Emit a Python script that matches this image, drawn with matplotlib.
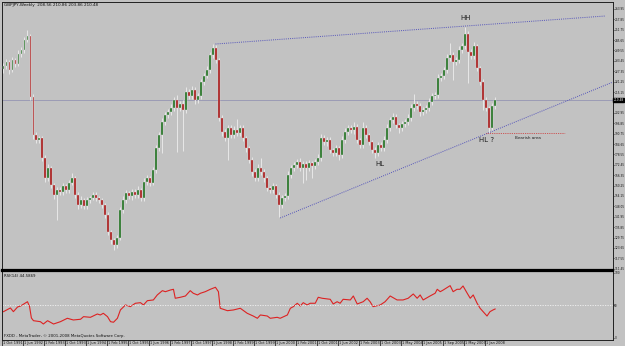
import matplotlib
matplotlib.use("Agg")
import matplotlib.pyplot as plt
import matplotlib.transforms as mtransforms
import numpy as np

# ---------------- data ----------------
title_text = "GBPJPY,Weekly  208.56 210.86 203.86 210.48"
first_open = 228.50
closes = [
    230.44, 232.79, 228.09, 233.96, 231.61, 237.48, 239.83, 245.70, 248.05, 212.24,
    189.93, 187.00, 188.17, 176.43, 164.69, 170.56, 160.58, 154.71, 157.65, 156.48,
    160.00, 157.65, 161.76, 164.69, 154.71, 148.84, 151.78, 148.26, 151.78, 152.95,
    154.71, 152.95, 151.78, 148.84, 142.97, 133.00, 128.30, 125.36, 129.47, 145.91,
    151.78, 155.89, 154.13, 156.48, 154.71, 157.65, 152.95, 162.35, 164.69, 161.76,
    169.39, 182.30, 189.93, 197.57, 201.67, 203.44, 205.78, 210.48, 205.78, 208.13,
    204.61, 215.18, 212.83, 216.35, 210.48, 212.83, 221.05, 224.57, 228.09, 236.90,
    241.00, 233.96, 199.91, 191.70, 188.17, 194.04, 189.93, 192.87, 191.11, 194.04,
    188.17, 182.30, 175.26, 168.22, 164.69, 170.56, 168.22, 164.69, 158.82, 157.65,
    160.00, 154.71, 148.84, 152.95, 154.13, 166.45, 170.56, 172.32, 174.09, 170.56,
    172.91, 170.56, 173.50, 171.74, 174.09, 176.43, 188.17, 185.83, 187.00, 181.13,
    179.37, 182.30, 178.19, 187.00, 191.70, 194.04, 192.87, 194.63, 187.00, 184.06,
    194.04, 189.93, 185.83, 181.13, 179.37, 184.06, 182.30, 187.00, 194.04, 198.74,
    200.50, 195.80, 194.04, 196.39, 197.57, 199.91, 205.78, 208.13, 206.96, 203.44,
    204.61, 205.78, 209.31, 212.83, 213.42, 223.39, 224.57, 228.09, 235.13, 236.90,
    232.79, 233.96, 239.83, 242.18, 249.22, 238.66, 236.31, 242.18, 229.26, 221.05,
    210.48, 205.78, 194.04, 206.96, 210.48,
]
wick_up = [
    1.5, 2.0, 1.2, 1.8, 1.0, 2.2, 1.5, 2.0, 3.5, 1.0,
    1.5, 2.0, 1.2, 1.0, 1.8, 2.5, 1.2, 1.0, 2.0, 1.5,
    1.8, 1.2, 2.0, 3.0, 1.0, 1.5, 2.2, 1.0, 1.8, 1.2,
    2.0, 1.5, 1.0, 1.2, 1.0, 1.5, 1.0, 1.2, 2.0, 1.5,
    2.5, 1.8, 1.2, 2.0, 1.5, 2.2, 1.0, 2.5, 1.8, 1.2,
    2.0, 1.5, 1.8, 2.2, 2.0, 1.5, 2.5, 2.0, 3.0, 1.8,
    2.2, 3.0, 1.5, 2.5, 2.0, 1.8, 2.0, 1.5, 2.2, 2.0,
    2.3, 1.5, 1.0, 1.5, 2.0, 1.8, 1.5, 2.5, 6.5, 2.0,
    1.5, 1.2, 1.0, 1.5, 2.0, 2.5, 5.9, 1.5, 1.0, 1.2,
    2.0, 1.0, 1.5, 1.8, 2.0, 2.5, 2.0, 1.5, 1.8, 2.2,
    1.5, 2.0, 1.8, 1.2, 2.0, 2.5, 2.2, 1.8, 2.0, 1.5,
    1.2, 2.0, 1.0, 2.2, 2.5, 1.8, 2.0, 3.0, 1.5, 1.2,
    3.5, 1.5, 1.0, 1.2, 1.5, 2.0, 1.8, 2.2, 2.5, 2.0,
    2.5, 1.5, 1.2, 1.8, 2.0, 2.2, 2.5, 6.0, 2.0, 1.5,
    1.8, 2.0, 2.2, 1.5, 2.0, 2.5, 1.8, 2.0, 2.2, 7.0,
    1.5, 1.8, 2.2, 2.0, 4.0, 1.5, 2.0, 2.5, 1.2, 1.0,
    1.5, 1.8, 1.2, 2.0, 1.5,
]
wick_dn = [
    2.0, 1.5, 2.5, 1.2, 1.8, 1.0, 2.0, 1.5, 1.2, 1.5,
    2.5, 1.8, 2.0, 1.5, 2.2, 1.8, 2.0, 2.5, 14.7, 1.5,
    2.0, 1.8, 1.5, 1.2, 2.0, 2.5, 1.5, 2.0, 1.8, 1.5,
    1.2, 2.0, 1.8, 2.0, 1.5, 2.0, 2.5, 3.0, 1.5, 1.2,
    1.8, 2.0, 1.5, 2.2, 1.8, 2.0, 1.5, 1.8, 2.0, 1.5,
    1.2, 1.5, 2.0, 10.6, 1.8, 2.0, 1.5, 1.8, 26.0, 2.0,
    24.0, 1.5, 2.0, 1.8, 2.5, 2.0, 1.5, 1.8, 1.2, 1.5,
    1.5, 2.0, 1.5, 2.2, 2.0, 13.0, 2.0, 1.8, 2.0, 1.5,
    2.0, 2.2, 1.8, 2.5, 2.0, 1.5, 2.0, 2.2, 1.8, 2.0,
    1.5, 2.0, 7.0, 1.8, 2.0, 1.5, 1.8, 2.0, 1.5, 2.0,
    8.8, 7.0, 2.0, 7.0, 1.8, 1.5, 2.0, 1.8, 2.2, 2.0,
    1.8, 2.0, 3.0, 1.5, 1.8, 2.0, 1.5, 2.2, 2.0, 1.8,
    1.5, 2.0, 1.8, 2.0, 3.0, 1.5, 2.0, 1.8, 1.5, 2.0,
    1.5, 2.0, 3.0, 2.0, 1.8, 1.5, 2.0, 1.5, 1.8, 2.2,
    2.0, 1.5, 1.8, 2.0, 1.5, 1.8, 2.0, 1.5, 1.8, 2.0,
    10.6, 2.0, 1.5, 1.8, 1.5, 18.0, 2.0, 1.8, 2.0, 1.5,
    6.0, 2.0, 3.0, 1.8, 1.5,
]
current_price = 210.48
price_ticks = [111.45, 117.55, 123.65, 129.75, 135.85, 141.95, 148.05, 154.15,
               160.25, 166.35, 172.45, 178.55, 184.65, 190.75, 196.85, 202.95,
               215.15, 221.25, 227.35, 233.45, 239.55, 245.65, 251.75, 257.85, 263.95]

date_labels = ["1 Oct 1991", "1 Jun 1992", "1 Feb 1993", "1 Oct 1993", "1 Jun 1994",
               "1 Feb 1995", "1 Oct 1995", "1 Jun 1996", "1 Feb 1997", "1 Oct 1997",
               "1 Jun 1998", "1 Feb 1999", "1 Oct 1999", "1 Jun 2000", "1 Feb 2001",
               "1 Oct 2001", "1 Jun 2002", "1 Feb 2003", "1 Oct 2003", "1 May 2004",
               "1 Jan 2005", "1 Sep 2005", "1 May 2007", "1 Jan 2008"]
date_label_bars = [-0.5, 6.5, 13.5, 20.5, 27.5, 34.5, 41.5, 48.5, 55.5, 62.5, 69.5, 76.5,
                   83.5, 90.5, 97.5, 104.5, 111.5, 118.5, 125.5, 132.5, 139.5, 146.5,
                   153.5, 160.5]

rsi_bars = [0, 2.3, 3.3, 4.7, 5.7, 8, 8.7, 9.3, 10, 12.3, 13.3, 14.7, 16.7, 19, 21.3, 23.3,
            25.7, 26.7, 29, 31.3, 32.3, 33.3, 34.7, 35.7, 36.7, 38, 39, 40.7, 42.3, 44,
            45.7, 46.7, 48, 50, 51.3, 53, 54, 55.7, 56.7, 57.3, 59, 60.7, 62.3, 63.3,
            64.7, 65.7, 67.3, 69, 70.7, 71.7, 72.3, 73.3, 74.7, 76.7, 79, 81.3, 83.3,
            84.7, 85.7, 88, 89, 91.3, 92.3, 94.7, 95.7, 96.7, 98, 99, 100, 101.3, 102.3,
            104, 105, 106.3, 109, 110, 111.3, 112.3, 113.3, 115.7, 116.7, 118, 120, 121.3,
            122.3, 123.3, 125.7, 127.3, 129, 131.3, 133.3, 135, 136.7, 138, 139, 140,
            142.3, 144, 144.7, 145.7, 146.7, 149, 150, 151.3, 152.3, 153.3, 154.7, 155.7,
            156.7, 158, 159, 160, 161.3, 162.3, 163.3, 164]
rsi_vals = [40.5, 46.2, 40.5, 47.7, 49.2, 55.8, 48.2, 30.8, 26.6, 25.1, 21.5, 26.6, 21.5,
            25.1, 30.3, 27.7, 28.8, 32.8, 31.8, 36.9, 35.4, 38.0, 32.8, 25.1, 24.2, 30.3,
            43.1, 50.8, 48.2, 53.4, 54.3, 50.8, 57.4, 58.5, 66.2, 72.8, 71.2, 73.8, 74.9,
            61.1, 62.6, 64.6, 72.8, 68.8, 66.2, 68.8, 71.2, 74.9, 78.0, 71.2, 45.7, 44.2,
            42.0, 43.1, 45.7, 38.0, 33.8, 30.3, 35.4, 33.8, 30.3, 31.8, 30.3, 35.4, 45.7,
            48.2, 53.4, 49.2, 54.3, 50.8, 53.4, 53.4, 62.6, 61.1, 59.5, 52.3, 55.8, 53.4,
            59.5, 58.5, 64.6, 52.3, 55.8, 61.1, 55.8, 48.2, 50.8, 55.8, 64.6, 58.5, 58.5,
            61.1, 67.7, 61.1, 66.2, 58.5, 64.6, 68.8, 74.9, 71.2, 73.8, 80.5, 71.2, 74.9,
            74.9, 80.0, 68.8, 61.1, 66.2, 53.4, 45.7, 40.5, 33.8, 40.5, 43.1, 44.6]
rsi_label = "RSI(14) 44.5869"
footer = "FXDD - MetaTrader, \u00a9 2001-2008 MetaQuotes Software Corp."

# user-drawn trend lines (bar, price)
upper_line_bars = [70.7, 200.7]
upper_line_prices = [243.35, 259.79]
lower_line_bars = [92.3, 161.7]
lower_line_prices = [141.21, 191.11]
bearish_bars = [161.0, 187.3]
bearish_price = 190.95
annotations = [("HH", 154.3, 258.6), ("HL", 125.7, 172.9), ("HL ?", 161.3, 187.0)]
bearish_text = ("Bearish area", 170.5, 187.9)

# ---------------- figure ----------------
W, H = 625, 346
BG = "#c2c2c2"
fig = plt.figure(figsize=(W / 100, H / 100), dpi=100, facecolor=BG)
ax = fig.add_axes([2 / W, 1 - 269.5 / H, 610.5 / W, 267.5 / H], facecolor=BG)
ax2 = fig.add_axes([2 / W, 1 - 340 / H, 610.5 / W, 69.5 / H], facecolor=BG, sharex=ax)

n = len(closes)
bars = np.arange(n)
c = np.array(closes)
o = np.concatenate([[first_open], c[:-1]])
top = np.maximum(o, c)
bot = np.minimum(o, c)
hi = top + np.array(wick_up)
lo = bot - np.array(wick_dn)
up = c >= o

ax.vlines(bars, lo, hi, color="#eeeeee", lw=0.6, zorder=2)
ax.bar(bars[up], (top - bot)[up], bottom=bot[up], width=0.65, color="#1b6e1b",
       edgecolor="#e6e6e6", linewidth=0.25, zorder=3)
ax.bar(bars[~up], (top - bot)[~up], bottom=bot[~up], width=0.65, color="#a31818",
       edgecolor="#f0d0d0", linewidth=0.25, zorder=3)

xl = (-1 / 3, (612.5 - 3) / 3)
ax.set_xlim(*xl)
ax.set_ylim(110.98, 268.01)

# current price line
ax.axhline(current_price, color="#9b9bb5", lw=0.7, zorder=1)

# trend lines
ax.plot(upper_line_bars, upper_line_prices, color="#5555bb", lw=0.7, ls=(0, (1, 1.2)), zorder=4)
slope = (lower_line_prices[1] - lower_line_prices[0]) / (lower_line_bars[1] - lower_line_bars[0])
ax.plot([lower_line_bars[0], xl[1]],
        [lower_line_prices[0], lower_line_prices[0] + slope * (xl[1] - lower_line_bars[0])],
        color="#5555bb", lw=0.7, ls=(0, (1, 1.2)), zorder=4)
ax.plot(bearish_bars, [bearish_price, bearish_price], color="#d03030", lw=0.6,
        ls=(0, (1, 1.2)), zorder=4)

for txt, bx, py in annotations:
    ax.text(bx, py, txt, fontsize=5, color="#222222", ha="center", va="center", zorder=5)
ax.text(bearish_text[1], bearish_text[2], bearish_text[0], fontsize=3.0, color="#222222",
        ha="left", va="center", zorder=5)

ax.text(0.004, 0.995, title_text, transform=ax.transAxes, fontsize=3.0, color="#111111",
        ha="left", va="top")

# right price axis
TICKFS = 2.1
ax.yaxis.tick_right()
ax.set_yticks(price_ticks)
ax.set_yticklabels([f"{v:.2f}" for v in price_ticks])
ax.tick_params(axis="y", direction="out", length=1.0, width=0.5, pad=0.3, labelsize=TICKFS,
               colors="#111111")
ax.tick_params(axis="x", bottom=False, labelbottom=False)
ax.text(1.0 + 1.2 / 610.5, current_price, f"{current_price:.2f}",
        transform=mtransforms.blended_transform_factory(ax.transAxes, ax.transData),
        fontsize=TICKFS, color="white", ha="left", va="center",
        bbox=dict(boxstyle="square,pad=0.1", fc="black", ec="black"))

for s in ax.spines.values():
    s.set_color("#202020")
    s.set_linewidth(0.7)
ax.spines["bottom"].set_linewidth(1.6)
ax.spines["bottom"].set_color("black")

# RSI panel
ax2.plot(rsi_bars, rsi_vals, color="#dd2222", lw=0.8)
ax2.axhline(50, color="#f2f2f2", lw=0.6, ls=(0, (1.5, 1.5)))
ax2.set_ylim(-3.1, 103.8)
ax2.yaxis.tick_right()
ax2.set_yticks([0, 50, 100])
ax2.set_yticklabels(["0", "50", "100"])
ax2.tick_params(axis="y", direction="out", length=1.0, width=0.5, pad=0.3, labelsize=TICKFS,
                colors="#111111")
ax2.text(0.004, 0.95, rsi_label, transform=ax2.transAxes, fontsize=2.8, color="#111111",
         ha="left", va="top")
ax2.text(0.004, 0.03, footer, transform=ax2.transAxes, fontsize=2.8, color="#111111",
         ha="left", va="bottom")
for s in ax2.spines.values():
    s.set_color("#202020")
    s.set_linewidth(0.7)
ax2.spines["top"].set_linewidth(1.6)
ax2.spines["top"].set_color("black")

ax2.set_xticks(date_label_bars)
ax2.set_xticklabels(date_labels)
ax2.tick_params(axis="x", direction="out", length=5, width=0.5, pad=-4.3, labelsize=2.5,
                colors="#111111")
offset = mtransforms.ScaledTranslation(1.0 / 100, 0, fig.dpi_scale_trans)
for lab in ax2.get_xticklabels():
    lab.set_horizontalalignment("left")
    lab.set_transform(lab.get_transform() + offset)

fig.savefig("out.png", dpi=100, facecolor=BG)
